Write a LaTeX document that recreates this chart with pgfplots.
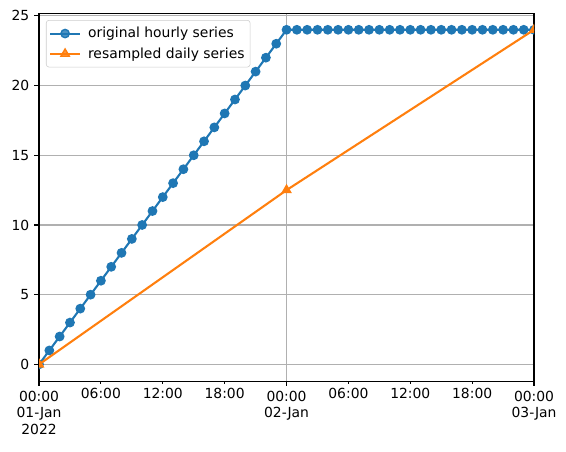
\documentclass[border=0pt]{standalone}
\usepackage{fontspec}
\setmainfont{DejaVu Sans}
\usepackage{pgfplots}
\pgfplotsset{compat=1.18}
\definecolor{cZero}{HTML}{1F77B4}
\definecolor{cOne}{HTML}{FF7F0E}
\definecolor{gridc}{HTML}{B0B0B0}
\definecolor{legc}{HTML}{CCCCCC}
\begin{document}
\begin{tikzpicture}
\begin{axis}[
  at={(0,0)}, anchor=south west,
  scale only axis,
  width=356.4pt, height=265pt,
  xmin=0, xmax=48, ymin=-1.2, ymax=25.2,
  axis line style={line width=0.8pt},
  every tick/.style={black, line width=0.8pt},
  tick align=outside,
  major tick length=3.5pt,
  xtick pos=bottom, ytick pos=left,
  ytick={0,5,10,15,20,25},
  xtick={0,24,48},
  xticklabels={{00:00\\01-Jan\\2022},{00:00\\02-Jan},{00:00\\03-Jan}},
  extra x ticks={6,12,18,30,36,42},
  extra x tick labels={06:00,12:00,18:00,06:00,12:00,18:00},
  extra x tick style={major tick length=2pt, grid=none,
     tick label style={yshift=0.5pt}},
  grid=major,
  major grid style={gridc, line width=0.8pt},
  tick label style={font=\fontsize{10}{12}\selectfont, align=center},
  /pgf/number format/assume math mode=true,
  clip marker paths=true,
  legend style={at={(0,1)}, anchor=north west, xshift=5pt, yshift=-5pt,
    draw=legc, rounded corners=2pt, fill=white, fill opacity=0.8, text opacity=1,
    font=\fontsize{10}{12}\selectfont, row sep=1.5pt, inner xsep=2pt, inner ysep=3pt},
  legend cell align=left,
  legend image code/.code={
    \draw[mark repeat=2,mark phase=2] plot coordinates {(0cm,0cm) (0.38cm,0cm) (0.76cm,0cm)};
  },
]
\addplot[cZero, line width=1.5pt, mark=*, mark size=3pt, mark options={solid, fill=cZero, draw=cZero, line width=1pt}] coordinates {
(0,0) (1,1) (2,2) (3,3) (4,4) (5,5) (6,6) (7,7) (8,8) (9,9) (10,10) (11,11) (12,12)
(13,13) (14,14) (15,15) (16,16) (17,17) (18,18) (19,19) (20,20) (21,21) (22,22) (23,23) (24,24)
(25,24) (26,24) (27,24) (28,24) (29,24) (30,24) (31,24) (32,24) (33,24) (34,24) (35,24) (36,24)
(37,24) (38,24) (39,24) (40,24) (41,24) (42,24) (43,24) (44,24) (45,24) (46,24) (47,24) (48,24)
};
\addlegendentry{\hspace*{3pt}original hourly series}
\addplot[cOne, line width=1.5pt, mark=triangle*, mark size=3.5pt, mark options={solid, fill=cOne, draw=cOne, line width=1pt}] coordinates {
(0,0) (24,12.5) (48,24)
};
\addlegendentry{\hspace*{3pt}resampled daily series}
\end{axis}
\pgfresetboundingbox
\path[use as bounding box] (-28.1pt,-50.4pt) rectangle (379.4pt,274.4pt);
\end{tikzpicture}
\end{document}
